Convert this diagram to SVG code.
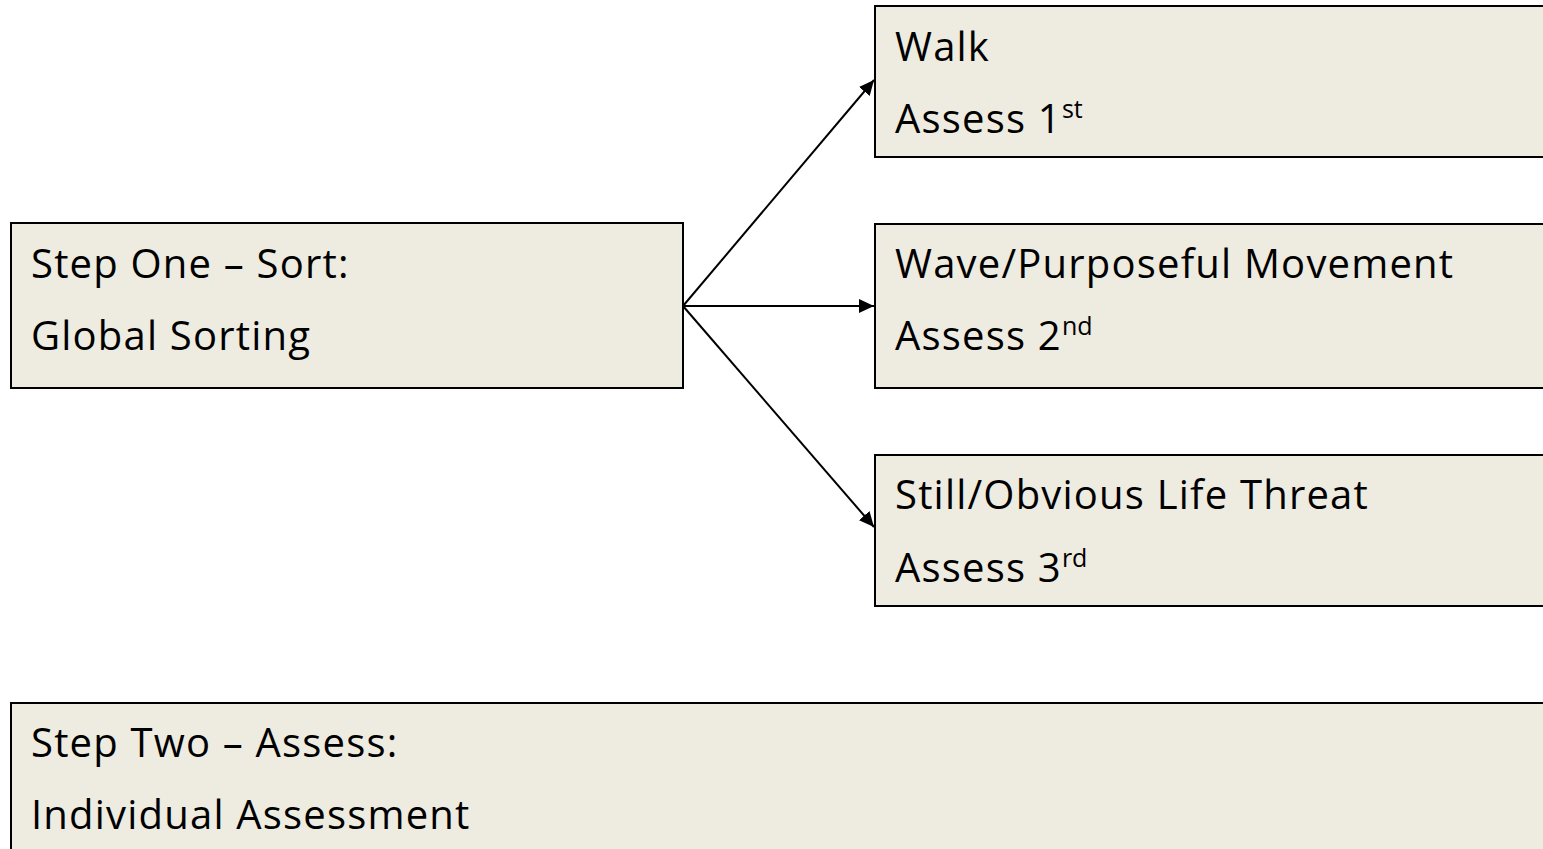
<svg xmlns="http://www.w3.org/2000/svg" width="1543" height="849" viewBox="0 0 1543 849">
<style>
.box{fill:#EEEBE0;stroke:#000;stroke-width:2}
.t{font-family:"Open Sans","Noto Sans",sans-serif;font-size:40px;letter-spacing:1.2px;fill:#000}
.sup{font-size:25px;letter-spacing:0}
.c{stroke:#000;stroke-width:2;fill:none;marker-end:url(#ah)}
</style>
<defs>
<marker id="ah" viewBox="0 0 15 14" refX="15" refY="7" markerWidth="15" markerHeight="14" markerUnits="userSpaceOnUse" orient="auto">
<path d="M0,0 L15,7 L0,14 z" fill="#000"/>
</marker>
</defs>
<rect width="1543" height="849" fill="#fff"/>
<g id="step-one">
<rect class="box" x="11" y="223" width="672" height="165"/>
<text class="t" x="31" y="278">Step One – Sort:</text>
<text class="t" x="31" y="350">Global Sorting</text>
</g>
<g id="walk">
<rect class="box" x="875" y="6" width="680" height="151"/>
<text class="t" x="895" y="61">Walk</text>
<text class="t" x="895" y="133">Assess 1<tspan class="sup" dy="-15">st</tspan></text>
</g>
<g id="wave">
<rect class="box" x="875" y="224" width="680" height="164"/>
<text class="t" x="895" y="278">Wave/Purposeful Movement</text>
<text class="t" x="895" y="350">Assess 2<tspan class="sup" dy="-15">nd</tspan></text>
</g>
<g id="still">
<rect class="box" x="875" y="455" width="680" height="151"/>
<text class="t" x="895" y="509">Still/Obvious Life Threat</text>
<text class="t" x="895" y="582">Assess 3<tspan class="sup" dy="-15">rd</tspan></text>
</g>
<g id="step-two">
<rect class="box" x="11" y="703" width="1544" height="160"/>
<text class="t" x="31" y="757">Step Two – Assess:</text>
<text class="t" x="31" y="829">Individual Assessment</text>
</g>
<g id="connectors">
<path class="c" d="M683,306 L874,80"/>
<path class="c" d="M683,306 L874,306"/>
<path class="c" d="M683,306 L874,527"/>
</g>
</svg>
